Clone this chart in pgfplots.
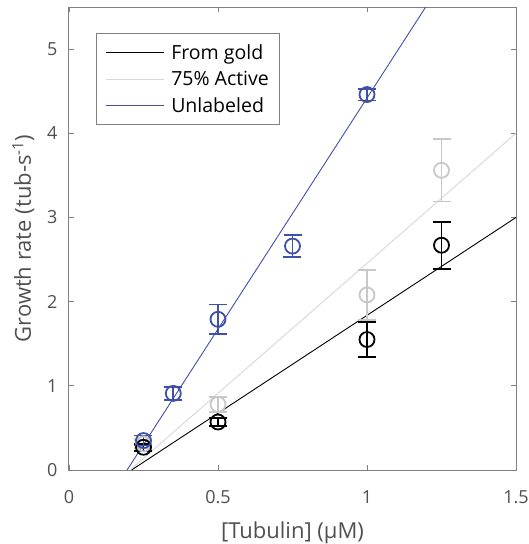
\documentclass[border=0pt]{standalone}
\usepackage{fontspec}
\setmainfont{Open Sans}
\usepackage{pgfplots}
\pgfplotsset{compat=1.18}
\definecolor{myblue}{RGB}{64,80,168}
\definecolor{mygray}{RGB}{200,200,200}
\definecolor{linegray}{RGB}{215,215,215}
\definecolor{axgray}{RGB}{128,128,128}
\definecolor{txtgray}{RGB}{80,80,80}
\begin{document}
\begin{tikzpicture}
\useasboundingbox (-69pt,-74pt) rectangle (460pt,470pt);
\begin{axis}[
 at={(0,0)}, anchor=south west,
 scale only axis, width=447pt, height=463pt,
 xmin=0,xmax=1.5,ymin=0,ymax=5.5,
 xtick={0,0.5,1,1.5}, ytick={0,1,2,3,4,5},
 xticklabels={0,0.5,1,1.5}, yticklabels={0,1,2,3,4,5},
 tick align=inside, major tick length=5pt,
 axis line style={axgray, line width=1pt},
 tick style={axgray, line width=0.8pt},
 ticklabel style={font=\fontsize{18}{21}\selectfont, text=txtgray},
 xticklabel style={anchor=base, yshift=-33pt},
 yticklabel style={xshift=-8pt},
 every axis x label/.style={at={(axis description cs:0.5,0)}, anchor=base, yshift=-68pt,
   font=\fontsize{22}{26}\selectfont, text=txtgray},
 every axis y label/.style={at={(axis description cs:-0.0694,0.5)}, rotate=90, anchor=south,
   font=\fontsize{22}{26}\selectfont, text=txtgray},
 xlabel={[Tubulin] (µM)},
 ylabel={Growth rate (tub-s\textsuperscript{-1})},
 legend style={at={(axis description cs:0.0604,0.944)}, anchor=north west, draw=axgray, line width=0.8pt,
   font=\fontsize{19.5}{23}\selectfont, text=black, row sep=6.5pt, inner xsep=9pt, inner ysep=9pt},
 legend cell align=left,
 legend image code/.code={\draw[#1] (0pt,0pt) -- (58pt,0pt); \path (63pt,0pt);},
]
\addplot[black, line width=0.9pt] coordinates {(0.21,0) (1.5,3.0)};
\addlegendentry{From gold}
\addplot[linegray, line width=0.9pt] coordinates {(0.205,0) (1.5,4.0)};
\addlegendentry{75\% Active}
\addplot[myblue, line width=0.9pt] coordinates {(0.195,0) (1.197,5.5)};
\addlegendentry{Unlabeled}

\addplot[forget plot, only marks, mark=o, mark size=7.5pt, mygray, line width=1.8pt,
  error bars/.cd, y dir=both, y explicit,
  error bar style={line width=1.8pt, mygray},
  error mark options={rotate=90, mark size=9pt, line width=1.8pt, mygray}]
 coordinates {(0.25,0.31) +- (0,0.05) (0.5,0.78) +- (0,0.09) (1.0,2.08) +- (0,0.30) (1.25,3.56) +- (0,0.37)};
\addplot[forget plot, only marks, mark=o, mark size=7.5pt, black, line width=1.8pt,
  error bars/.cd, y dir=both, y explicit,
  error bar style={line width=1.8pt, black},
  error mark options={rotate=90, mark size=9pt, line width=1.8pt, black}]
 coordinates {(0.25,0.27) +- (0,0.04) (0.5,0.57) +- (0,0.05) (1.0,1.55) +- (0,0.21) (1.25,2.67) +- (0,0.28)};
\addplot[forget plot, only marks, mark=o, mark size=7.5pt, myblue, line width=1.8pt,
  error bars/.cd, y dir=both, y explicit,
  error bar style={line width=1.8pt, myblue},
  error mark options={rotate=90, mark size=9pt, line width=1.8pt, myblue}]
 coordinates {(0.25,0.35) +- (0,0.06) (0.35,0.91) +- (0,0.08) (0.5,1.79) +- (0,0.175) (0.75,2.66) +- (0,0.13) (1.0,4.46) +- (0,0.07)};
\end{axis}
\end{tikzpicture}
\end{document}
